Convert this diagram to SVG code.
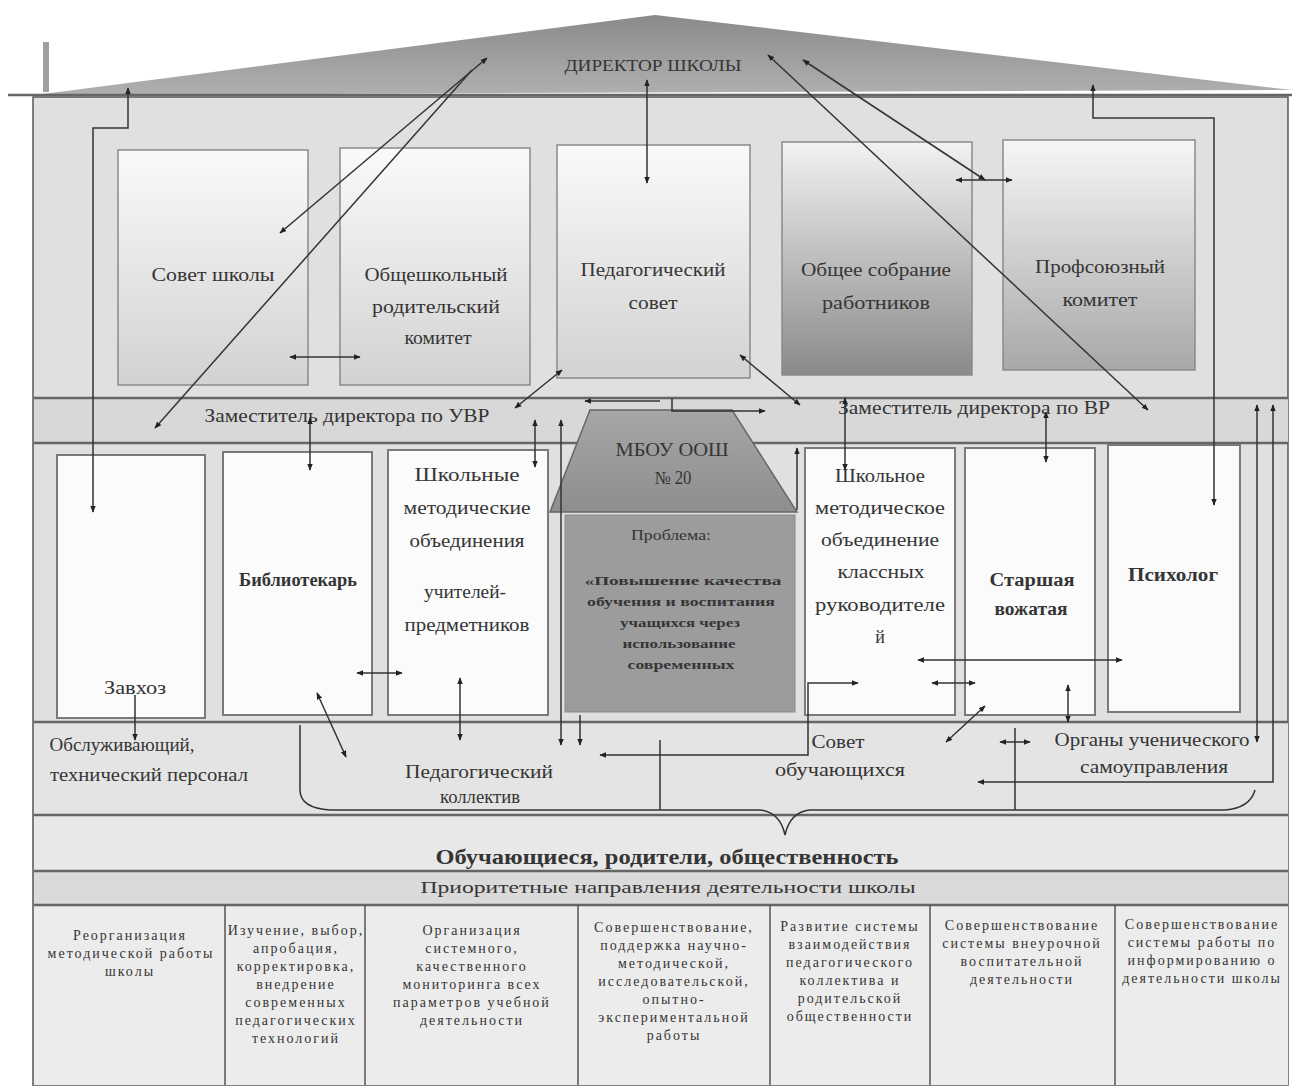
<svg xmlns="http://www.w3.org/2000/svg" width="1303" height="1088" viewBox="0 0 1303 1088">
<style>
.t{font-family:"Liberation Serif","DejaVu Serif",serif;fill:#353535;text-anchor:middle}
.l18{font-size:18px}
.b{font-weight:bold}
.sm{font-size:14px;letter-spacing:2px}
.c{fill:none;stroke:#333;stroke-width:1.5}
.sep{stroke:#666;stroke-width:2.5;fill:none}
.box{fill:url(#gw);stroke:#8a8a8a;stroke-width:1.5}
.mbox{fill:#fbfbfb;stroke:#7a7a7a;stroke-width:2}
</style>
<defs>
<marker id="ar" viewBox="0 0 10 10" refX="9" refY="5" markerWidth="7" markerHeight="7" orient="auto-start-reverse" markerUnits="userSpaceOnUse">
<path d="M0,1 L10,5 L0,9 z" fill="#222"/>
</marker>
<linearGradient id="roof" x1="0" y1="0" x2="0" y2="1">
<stop offset="0" stop-color="#8a8a8a"/><stop offset="1" stop-color="#b0b0b0"/>
</linearGradient>
<linearGradient id="gw" x1="0" y1="0" x2="0" y2="1">
<stop offset="0" stop-color="#fafafa"/><stop offset="1" stop-color="#d2d2d2"/>
</linearGradient>
<linearGradient id="gd" x1="0" y1="0" x2="0" y2="1">
<stop offset="0" stop-color="#f2f2f2"/><stop offset="1" stop-color="#8a8a8a"/>
</linearGradient>
<linearGradient id="gp" x1="0" y1="0" x2="0" y2="1">
<stop offset="0" stop-color="#f6f6f6"/><stop offset="1" stop-color="#a8a8a8"/>
</linearGradient>
<linearGradient id="trap" x1="0" y1="0" x2="0" y2="1">
<stop offset="0" stop-color="#a6a6a6"/><stop offset="1" stop-color="#8e8e8e"/>
</linearGradient>
</defs>
<rect x="0" y="0" width="1303" height="1088" fill="#ffffff"/>
<g id="building">
<rect x="33" y="97" width="1255" height="988" fill="#e0e0e0" stroke="#555" stroke-width="1.5"/>
<rect x="34" y="398" width="1254" height="45" fill="#d8d8d8"/>
<rect x="34" y="722" width="1254" height="93" fill="#e4e4e4"/>
<rect x="34" y="815" width="1254" height="56" fill="#e8e8e8"/>
<rect x="34" y="871" width="1254" height="34" fill="#dadada"/>
<rect x="34" y="905" width="1254" height="180" fill="#ececec"/>
<polygon points="35,95 655,15 1292,90" fill="url(#roof)"/>
<line x1="8" y1="95" x2="1292" y2="95" class="sep"/>
<line x1="34" y1="398" x2="1288" y2="398" class="sep"/>
<line x1="34" y1="443" x2="1288" y2="443" class="sep"/>
<line x1="34" y1="722" x2="1288" y2="722" class="sep"/>
<line x1="34" y1="815" x2="1288" y2="815" class="sep"/>
<line x1="34" y1="871" x2="1288" y2="871" class="sep"/>
<line x1="34" y1="905" x2="1288" y2="905" class="sep"/>
<g stroke="#555" stroke-width="1.5">
<line x1="225" y1="905" x2="225" y2="1085"/>
<line x1="365" y1="905" x2="365" y2="1085"/>
<line x1="578" y1="905" x2="578" y2="1085"/>
<line x1="770" y1="905" x2="770" y2="1085"/>
<line x1="930" y1="905" x2="930" y2="1085"/>
<line x1="1115" y1="905" x2="1115" y2="1085"/>
</g>
<rect x="43" y="42" width="6" height="50" fill="#a0a0a0"/>
<text class="t" x="653" y="71" font-size="17" textLength="177" lengthAdjust="spacingAndGlyphs">ДИРЕКТОР ШКОЛЫ</text>
</g>
<g id="sovet-shkoly">
<rect class="box" x="118" y="150" width="190" height="235"/>
<text class="t l18" x="213" y="281" textLength="123" lengthAdjust="spacingAndGlyphs">Совет школы</text>
</g>
<g id="roditelsky-komitet">
<rect class="box" x="340" y="148" width="190" height="237"/>
<text class="t l18" x="436" y="281" textLength="143" lengthAdjust="spacingAndGlyphs">Общешкольный</text>
<text class="t l18" x="436" y="313" textLength="128" lengthAdjust="spacingAndGlyphs">родительский</text>
<text class="t l18" x="438" y="344" textLength="67" lengthAdjust="spacingAndGlyphs">комитет</text>
</g>
<g id="pedsovet">
<rect class="box" x="557" y="145" width="193" height="233"/>
<text class="t l18" x="653" y="276" textLength="145" lengthAdjust="spacingAndGlyphs">Педагогический</text>
<text class="t l18" x="653" y="309" textLength="49" lengthAdjust="spacingAndGlyphs">совет</text>
</g>
<g id="obshee-sobranie">
<rect x="782" y="142" width="190" height="233" fill="url(#gd)" stroke="#8a8a8a" stroke-width="1.5"/>
<text class="t l18" x="876" y="276" textLength="150" lengthAdjust="spacingAndGlyphs">Общее собрание</text>
<text class="t l18" x="876" y="309" textLength="108" lengthAdjust="spacingAndGlyphs">работников</text>
</g>
<g id="profsoyuz">
<rect x="1003" y="140" width="192" height="230" fill="url(#gp)" stroke="#8a8a8a" stroke-width="1.5"/>
<text class="t l18" x="1100" y="273" textLength="130" lengthAdjust="spacingAndGlyphs">Профсоюзный</text>
<text class="t l18" x="1100" y="306" textLength="75" lengthAdjust="spacingAndGlyphs">комитет</text>
</g>
<g id="zam-uvr">
<text class="t l18" x="347" y="422" textLength="285" lengthAdjust="spacingAndGlyphs">Заместитель директора по УВР</text>
</g>
<g id="zam-vr">
<text class="t l18" x="974" y="414" textLength="272" lengthAdjust="spacingAndGlyphs">Заместитель директора по ВР</text>
</g>
<g id="zavhoz">
<rect class="mbox" x="57" y="455" width="148" height="263"/>
<text class="t l18" x="135" y="694" textLength="62" lengthAdjust="spacingAndGlyphs">Завхоз</text>
</g>
<g id="bibliotekar">
<rect class="mbox" x="223" y="452" width="149" height="263"/>
<text class="t l18 b" x="298" y="586" textLength="118" lengthAdjust="spacingAndGlyphs">Библиотекарь</text>
</g>
<g id="shmo-predmetnikov">
<rect class="mbox" x="388" y="450" width="160" height="265"/>
<text class="t l18" x="467" y="481" textLength="105" lengthAdjust="spacingAndGlyphs">Школьные</text>
<text class="t l18" x="467" y="514" textLength="127" lengthAdjust="spacingAndGlyphs">методические</text>
<text class="t l18" x="467" y="547" textLength="115" lengthAdjust="spacingAndGlyphs">объединения</text>
<text class="t l18" x="465" y="598" textLength="82" lengthAdjust="spacingAndGlyphs">учителей-</text>
<text class="t l18" x="467" y="631" textLength="125" lengthAdjust="spacingAndGlyphs">предметников</text>
</g>
<g id="mbou">
<polygon points="590,410 732,410 797,512 550,512" fill="url(#trap)" stroke="#666" stroke-width="1.5"/>
<text class="t l18" x="672" y="456" textLength="113" lengthAdjust="spacingAndGlyphs">МБОУ ООШ</text>
<text class="t l18" x="673" y="484" textLength="37" lengthAdjust="spacingAndGlyphs">№ 20</text>
</g>
<g id="problema">
<rect x="565" y="515" width="230" height="197" fill="#9c9c9c" stroke="#888" stroke-width="1"/>
<text class="t" font-size="15" x="671" y="540" textLength="80" lengthAdjust="spacingAndGlyphs">Проблема:</text>
<g font-size="13" font-weight="bold">
<text class="t" x="683" y="585" textLength="197" lengthAdjust="spacingAndGlyphs">«Повышение качества</text>
<text class="t" x="681" y="606" textLength="188" lengthAdjust="spacingAndGlyphs">обучения и воспитания</text>
<text class="t" x="680" y="627" textLength="120" lengthAdjust="spacingAndGlyphs">учащихся через</text>
<text class="t" x="679" y="648" textLength="113" lengthAdjust="spacingAndGlyphs">использование</text>
<text class="t" x="681" y="669" textLength="107" lengthAdjust="spacingAndGlyphs">современных</text>
</g>
</g>
<g id="shmo-klassnyh">
<rect class="mbox" x="805" y="448" width="150" height="267"/>
<text class="t l18" x="880" y="482" textLength="90" lengthAdjust="spacingAndGlyphs">Школьное</text>
<text class="t l18" x="880" y="514" textLength="130" lengthAdjust="spacingAndGlyphs">методическое</text>
<text class="t l18" x="880" y="546" textLength="118" lengthAdjust="spacingAndGlyphs">объединение</text>
<text class="t l18" x="881" y="578" textLength="87" lengthAdjust="spacingAndGlyphs">классных</text>
<text class="t l18" x="880" y="611" textLength="130" lengthAdjust="spacingAndGlyphs">руководителе</text>
<text class="t l18" x="880" y="643">й</text>
</g>
<g id="vozhataya">
<rect class="mbox" x="965" y="448" width="130" height="267"/>
<text class="t l18 b" x="1032" y="586" textLength="85" lengthAdjust="spacingAndGlyphs">Старшая</text>
<text class="t l18 b" x="1031" y="615" textLength="73" lengthAdjust="spacingAndGlyphs">вожатая</text>
</g>
<g id="psiholog">
<rect class="mbox" x="1108" y="445" width="132" height="267"/>
<text class="t l18 b" x="1173" y="581" textLength="90" lengthAdjust="spacingAndGlyphs">Психолог</text>
</g>
<g id="obsluzhivayushchy">
<text class="t l18" x="122" y="751" textLength="145" lengthAdjust="spacingAndGlyphs">Обслуживающий,</text>
<text class="t l18" x="149" y="781" textLength="198" lengthAdjust="spacingAndGlyphs">технический персонал</text>
</g>
<g id="ped-kollektiv">
<text class="t l18" x="479" y="778" textLength="148" lengthAdjust="spacingAndGlyphs">Педагогический</text>
<text class="t l18" x="480" y="803" textLength="80" lengthAdjust="spacingAndGlyphs">коллектив</text>
</g>
<g id="sovet-obuchayushchihsya">
<text class="t l18" x="838" y="748" textLength="53" lengthAdjust="spacingAndGlyphs">Совет</text>
<text class="t l18" x="840" y="776" textLength="130" lengthAdjust="spacingAndGlyphs">обучающихся</text>
</g>
<g id="organy-samoupravleniya">
<text class="t l18" x="1152" y="746" textLength="195" lengthAdjust="spacingAndGlyphs">Органы ученического</text>
<text class="t l18" x="1154" y="773" textLength="148" lengthAdjust="spacingAndGlyphs">самоуправления</text>
</g>
<g id="obuchayushchiesya">
<text class="t b" font-size="20" x="667" y="864" textLength="463" lengthAdjust="spacingAndGlyphs">Обучающиеся, родители, общественность</text>
</g>
<g id="prioritety">
<text class="t" font-size="17" x="668" y="893" textLength="495" lengthAdjust="spacingAndGlyphs">Приоритетные направления деятельности школы</text>
</g>
<g id="col1" class="t sm">
<text x="130" y="940">Реорганизация</text>
<text x="131" y="958">методической работы</text>
<text x="130" y="976">школы</text>
</g>
<g id="col2" class="t sm">
<text x="296" y="935">Изучение, выбор,</text>
<text x="296" y="953">апробация,</text>
<text x="296" y="971">корректировка,</text>
<text x="296" y="989">внедрение</text>
<text x="296" y="1007">современных</text>
<text x="296" y="1025">педагогических</text>
<text x="296" y="1043">технологий</text>
</g>
<g id="col3" class="t sm">
<text x="472" y="935">Организация</text>
<text x="472" y="953">системного,</text>
<text x="472" y="971">качественного</text>
<text x="472" y="989">мониторинга всех</text>
<text x="472" y="1007">параметров учебной</text>
<text x="472" y="1025">деятельности</text>
</g>
<g id="col4" class="t sm">
<text x="674" y="932">Совершенствование,</text>
<text x="674" y="950">поддержка научно-</text>
<text x="674" y="968">методической,</text>
<text x="674" y="986">исследовательской,</text>
<text x="674" y="1004">опытно-</text>
<text x="674" y="1022">экспериментальной</text>
<text x="674" y="1040">работы</text>
</g>
<g id="col5" class="t sm">
<text x="850" y="931">Развитие системы</text>
<text x="850" y="949">взаимодействия</text>
<text x="850" y="967">педагогического</text>
<text x="850" y="985">коллектива и</text>
<text x="850" y="1003">родительской</text>
<text x="850" y="1021">общественности</text>
</g>
<g id="col6" class="t sm">
<text x="1022" y="930">Совершенствование</text>
<text x="1022" y="948">системы внеурочной</text>
<text x="1022" y="966">воспитательной</text>
<text x="1022" y="984">деятельности</text>
</g>
<g id="col7" class="t sm">
<text x="1202" y="929">Совершенствование</text>
<text x="1202" y="947">системы работы по</text>
<text x="1202" y="965">информированию о</text>
<text x="1202" y="983">деятельности школы</text>
</g>
<g id="connectors">
<line class="c" x1="647" y1="80" x2="647" y2="183" marker-start="url(#ar)" marker-end="url(#ar)"/>
<line class="c" x1="487" y1="58" x2="280" y2="233" marker-start="url(#ar)" marker-end="url(#ar)"/>
<line class="c" x1="472" y1="70" x2="155" y2="428" marker-end="url(#ar)"/>
<line class="c" x1="768" y1="55" x2="1148" y2="410" marker-start="url(#ar)" marker-end="url(#ar)"/>
<line class="c" x1="803" y1="60" x2="985" y2="180" marker-start="url(#ar)" marker-end="url(#ar)"/>
<line class="c" x1="956" y1="180" x2="1012" y2="180" marker-start="url(#ar)" marker-end="url(#ar)"/>
<line class="c" x1="290" y1="357" x2="360" y2="357" marker-start="url(#ar)" marker-end="url(#ar)"/>
<line class="c" x1="562" y1="370" x2="515" y2="408" marker-start="url(#ar)" marker-end="url(#ar)"/>
<line class="c" x1="740" y1="355" x2="800" y2="405" marker-start="url(#ar)" marker-end="url(#ar)"/>
<path class="c" d="M128,88 V128 H93 V512" marker-start="url(#ar)" marker-end="url(#ar)"/>
<path class="c" d="M1093,85 V118 H1214 V505" marker-start="url(#ar)" marker-end="url(#ar)"/>
<line class="c" x1="1257" y1="405" x2="1257" y2="742" marker-start="url(#ar)" marker-end="url(#ar)"/>
<path class="c" d="M1273,405 V782 H978" marker-start="url(#ar)" marker-end="url(#ar)"/>
<line class="c" x1="660" y1="401" x2="585" y2="401" stroke-width="3" marker-end="url(#ar)"/>
<path class="c" d="M672,398 V411 H765" marker-end="url(#ar)"/>
<line class="c" x1="535" y1="420" x2="535" y2="467" marker-start="url(#ar)" marker-end="url(#ar)"/>
<line class="c" x1="561" y1="420" x2="561" y2="745" marker-start="url(#ar)" marker-end="url(#ar)"/>
<line class="c" x1="580" y1="715" x2="580" y2="745" marker-end="url(#ar)"/>
<line class="c" x1="797" y1="510" x2="797" y2="448" marker-end="url(#ar)"/>
<path class="c" d="M858,683 H808 V755 H600" marker-start="url(#ar)" marker-end="url(#ar)"/>
<line class="c" x1="845" y1="398" x2="845" y2="470" marker-start="url(#ar)" marker-end="url(#ar)"/>
<line class="c" x1="1046" y1="412" x2="1046" y2="462" marker-start="url(#ar)" marker-end="url(#ar)"/>
<line class="c" x1="918" y1="660" x2="1122" y2="660" marker-start="url(#ar)" marker-end="url(#ar)"/>
<line class="c" x1="932" y1="683" x2="975" y2="683" marker-start="url(#ar)" marker-end="url(#ar)"/>
<line class="c" x1="1068" y1="685" x2="1068" y2="722" marker-start="url(#ar)" marker-end="url(#ar)"/>
<line class="c" x1="985" y1="706" x2="946" y2="742" marker-start="url(#ar)" marker-end="url(#ar)"/>
<line class="c" x1="1000" y1="742" x2="1030" y2="742" marker-start="url(#ar)" marker-end="url(#ar)"/>
<line class="c" x1="310" y1="418" x2="310" y2="470" marker-start="url(#ar)" marker-end="url(#ar)"/>
<line class="c" x1="135" y1="695" x2="135" y2="740" marker-end="url(#ar)"/>
<line class="c" x1="357" y1="673" x2="402" y2="673" marker-start="url(#ar)" marker-end="url(#ar)"/>
<line class="c" x1="317" y1="693" x2="346" y2="757" marker-start="url(#ar)" marker-end="url(#ar)"/>
<line class="c" x1="460" y1="678" x2="460" y2="740" marker-start="url(#ar)" marker-end="url(#ar)"/>
<line class="c" x1="660" y1="740" x2="660" y2="810"/>
<line class="c" x1="1015" y1="728" x2="1015" y2="810"/>
<path class="c" d="M300,725 V790 Q300,808 330,810 H760 Q780,812 785,835 Q790,812 810,810 H1225 Q1250,808 1255,790"/>
</g>
</svg>
